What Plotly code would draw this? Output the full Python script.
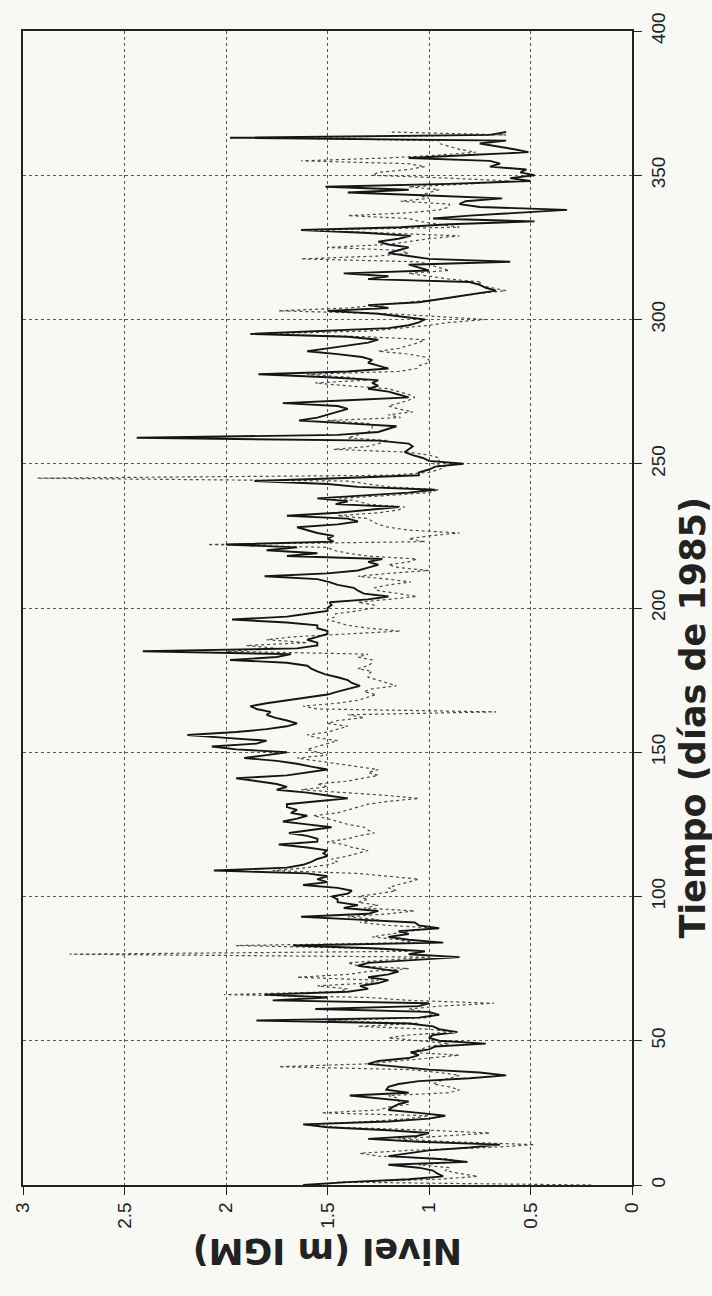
import plotly.graph_objects as go

# Daily water level at two gauges, 1985 (m IGM); index = day of year
dias = list(range(0, 366))

nivel_continuo = [
    1.62, 1.40, 1.10, 0.93, 0.96, 0.98, 1.05, 1.20, 0.81, 0.95,
    1.20, 1.10, 1.00, 0.80, 0.65, 1.05, 1.30, 1.06, 1.00, 1.20,
    1.50, 1.62, 1.20, 1.00, 0.92, 1.05, 1.20, 1.18, 1.15, 1.10,
    1.25, 1.39, 1.10, 1.21, 1.20, 1.15, 1.05, 0.80, 0.62, 0.75,
    1.00, 1.15, 1.30, 1.25, 1.10, 1.05, 1.09, 1.00, 0.97, 0.72,
    0.95, 1.00, 0.98, 0.86, 0.95, 0.98, 1.10, 1.85, 1.05, 0.95,
    1.00, 1.56, 1.05, 1.00, 1.77, 1.50, 1.81, 1.40, 1.30, 1.34,
    1.25, 1.20, 1.30, 1.20, 1.15, 1.25, 1.35, 1.30, 1.05, 0.85,
    1.10, 1.02, 1.25, 1.67, 0.93, 1.10, 1.20, 1.10, 1.15, 0.95,
    1.05, 1.07, 1.35, 1.63, 1.30, 1.25, 1.42, 1.35, 1.45, 1.45,
    1.48, 1.40, 1.38, 1.45, 1.62, 1.50, 1.55, 1.50, 1.60, 2.06,
    1.70, 1.62, 1.58, 1.55, 1.50, 1.52, 1.50, 1.60, 1.74, 1.55,
    1.55, 1.60, 1.69, 1.58, 1.48, 1.60, 1.72, 1.65, 1.60, 1.68,
    1.65, 1.70, 1.70, 1.55, 1.40, 1.50, 1.60, 1.75, 1.70, 1.75,
    1.85, 1.95, 1.70, 1.60, 1.50, 1.58, 1.65, 1.75, 1.91, 1.80,
    1.70, 1.95, 2.07, 1.85, 1.80, 2.00, 2.19, 1.95, 1.80, 1.70,
    1.65, 1.70, 1.76, 1.80, 1.78, 1.85, 1.88, 1.80, 1.70, 1.62,
    1.50, 1.45, 1.40, 1.34, 1.38, 1.40, 1.45, 1.51, 1.55, 1.58,
    1.60, 1.70, 1.98, 1.75, 1.68, 2.41, 1.65, 1.55, 1.55, 1.60,
    1.55, 1.50, 1.50, 1.55, 1.55, 1.70, 1.97, 1.70, 1.60, 1.50,
    1.50, 1.48, 1.49, 1.30, 1.20, 1.32, 1.35, 1.37, 1.45, 1.49,
    1.55, 1.81, 1.50, 1.35, 1.30, 1.25, 1.30, 1.23, 1.70, 1.55,
    1.80, 1.65, 2.00, 1.47, 1.50, 1.47, 1.55, 1.60, 1.65, 1.45,
    1.35, 1.40, 1.70, 1.45, 1.30, 1.15, 1.46, 1.40, 1.55, 1.30,
    1.10, 0.97, 1.35, 1.50, 1.86, 1.45, 1.05, 1.05, 1.00, 0.97,
    0.83, 1.00, 1.03, 1.08, 1.12, 1.10, 1.08, 1.10, 1.25, 2.44,
    1.45, 1.25, 1.20, 1.16, 1.40, 1.64, 1.55, 1.50, 1.45, 1.40,
    1.45, 1.72, 1.40, 1.10, 1.15, 1.20, 1.30, 1.25, 1.28, 1.25,
    1.50, 1.84, 1.40, 1.20, 1.25, 1.30, 1.28, 1.33, 1.45, 1.60,
    1.50, 1.40, 1.30, 1.25, 1.40, 1.88, 1.50, 1.20, 1.10, 1.05,
    1.02, 1.15, 1.25, 1.50, 1.20, 1.30, 1.05, 0.95, 0.85, 0.75,
    0.67, 0.72, 0.75, 0.80, 1.30, 1.20, 1.42, 1.00, 1.05, 1.10,
    0.60, 1.00, 1.10, 1.20, 1.15, 1.10, 1.20, 1.25, 1.15, 1.09,
    1.30, 1.63, 1.14, 0.90, 0.48, 0.98, 0.80, 0.55, 0.32, 0.75,
    0.85, 0.82, 0.64, 1.00, 1.40, 1.10, 1.51, 0.90, 0.50, 0.60,
    0.48, 0.55, 0.52, 0.70, 0.65, 0.70, 1.10, 0.80, 0.51, 0.58,
    0.67, 0.75, 0.62, 1.98, 0.70, 0.62,
]

nivel_punteado = [
    0.20, 1.45, 0.95, 0.76, 0.85, 0.92, 0.90, 1.05, 0.85, 0.90,
    1.25, 1.34, 1.10, 0.70, 0.48, 0.90, 1.15, 0.95, 0.70, 1.00,
    1.45, 1.62, 1.30, 1.10, 1.00, 1.53, 1.25, 1.20, 1.10, 1.15,
    1.15, 1.20, 0.90, 0.85, 0.90, 0.98, 0.95, 0.90, 0.85, 0.95,
    1.10, 1.74, 1.30, 1.15, 1.00, 0.85, 1.09, 1.05, 1.00, 0.90,
    1.05, 1.20, 1.10, 0.88, 1.00, 1.35, 1.05, 1.50, 1.00, 0.98,
    1.02, 1.10, 0.95, 0.68, 1.10, 1.30, 2.01, 1.45, 1.40, 1.55,
    1.30, 1.25, 1.65, 1.40, 1.30, 1.10, 1.35, 1.40, 1.20, 1.00,
    2.77, 1.10, 1.30, 1.95, 1.07, 1.15, 1.28, 1.20, 1.10, 0.96,
    1.20, 1.34, 1.25, 1.40, 1.20, 1.07, 1.32, 1.25, 1.35, 1.30,
    1.35, 1.25, 1.16, 1.20, 1.16, 1.10, 1.05, 1.20, 1.35, 1.77,
    1.60, 1.50, 1.45, 1.48, 1.40, 1.35, 1.30, 1.38, 1.42, 1.50,
    1.40, 1.35, 1.27, 1.30, 1.32, 1.40, 1.45, 1.50, 1.57, 1.45,
    1.40, 1.35, 1.30, 1.20, 1.05, 1.20, 1.40, 1.63, 1.50, 1.55,
    1.40, 1.32, 1.25, 1.30, 1.25, 1.35, 1.45, 1.55, 1.65, 1.50,
    1.55, 1.60, 1.55, 1.50, 1.45, 1.55, 1.60, 1.50, 1.45, 1.40,
    1.50, 1.45, 1.32, 1.40, 0.67, 1.55, 1.62, 1.45, 1.35, 1.30,
    1.26, 1.32, 1.28, 1.16, 1.20, 1.25, 1.30, 1.30, 1.28, 1.35,
    1.30, 1.28, 1.28, 1.35, 1.30, 2.00, 1.75, 1.90, 1.60, 1.80,
    1.67, 1.40, 1.14, 1.30, 1.40, 1.45, 1.50, 1.46, 1.46, 1.35,
    1.27, 1.27, 1.35, 1.20, 1.06, 1.15, 1.25, 1.27, 1.20, 1.09,
    1.20, 1.35, 1.20, 1.00, 1.15, 1.20, 1.10, 1.06, 1.30, 1.40,
    1.47, 1.50, 2.09, 1.02, 1.10, 1.00, 0.85, 1.10, 1.20, 1.25,
    1.28, 1.30, 1.45, 1.25, 1.15, 1.12, 1.30, 1.35, 1.44, 1.20,
    1.00, 0.95, 1.20, 1.30, 1.40, 2.93, 1.20, 1.00, 0.95, 0.92,
    0.98, 0.95, 0.95, 1.00, 1.10, 1.47, 1.30, 1.25, 1.20, 1.40,
    1.35, 1.30, 1.28, 1.28, 1.30, 1.50, 1.14, 1.20, 1.08, 1.15,
    1.20, 1.15, 1.10, 1.07, 1.10, 1.15, 1.20, 1.40, 1.56, 1.30,
    1.40, 1.60, 1.15, 1.06, 1.05, 1.00, 1.00, 1.02, 1.10, 1.25,
    1.15, 1.10, 1.05, 1.02, 1.30, 1.85, 1.30, 1.14, 1.00, 0.90,
    0.72, 0.95, 1.20, 1.74, 1.40, 1.25, 1.10, 0.95, 0.85, 0.76,
    0.62, 0.70, 0.76, 0.74, 0.90, 1.00, 1.10, 0.90, 0.95, 1.00,
    1.05, 1.63, 1.25, 1.10, 1.15, 1.50, 1.20, 1.10, 1.00, 0.85,
    1.20, 1.60, 0.85, 0.95, 1.05, 1.10, 1.40, 1.10, 0.95, 0.90,
    0.90, 1.14, 1.00, 1.05, 1.00, 0.95, 1.10, 0.80, 0.60, 0.90,
    1.28, 1.25, 1.10, 1.02, 1.10, 1.63, 1.20, 0.95, 0.77, 0.85,
    0.90, 0.95, 0.95, 1.78, 0.62, 1.20,
]

ticks_nivel = [0, 0.5, 1, 1.5, 2, 2.5, 3]
etiquetas_nivel = ["0", "0.5", "1", "1.5", "2", "2.5", "3"]
ticks_tiempo = [0, 50, 100, 150, 200, 250, 300, 350, 400]
etiquetas_tiempo = ["0", "50", "100", "150", "200", "250", "300", "350", "400"]

titulo_tiempo = "Tiempo (días de 1985)"
titulo_nivel = "Nivel (m IGM)"

FONT = "Liberation Sans, Arial, sans-serif"
FONT_TITULO = "DejaVu Sans, Liberation Sans, sans-serif"

fig = go.Figure()

# Page is drawn turned on its side: level runs along x (reversed), time runs up y
fig.add_trace(go.Scatter(
    x=nivel_punteado, y=dias, mode="lines",
    line=dict(color="#4a4a4a", width=1.2, dash="dot"),
    showlegend=False, hoverinfo="skip",
))
fig.add_trace(go.Scatter(
    x=nivel_continuo, y=dias, mode="lines",
    line=dict(color="#151515", width=1.9),
    showlegend=False, hoverinfo="skip",
))

fig.update_layout(
    width=712, height=1296,
    margin=dict(l=20, r=80, t=28, b=111),
    paper_bgcolor="#f8f8f5",
    plot_bgcolor="#f8f8f5",
    font=dict(family=FONT, color="#222"),
    xaxis=dict(
        range=[3, 0], autorange=False,
        tickvals=ticks_nivel, ticktext=etiquetas_nivel,
        tickangle=-90, tickfont=dict(size=19, color="#222"),
        ticks="outside", ticklen=8, tickcolor="#222",
        showline=True, linecolor="#222", linewidth=1.5, mirror=True,
        showgrid=True, gridcolor="#555", griddash="dot", gridwidth=1,
        zeroline=False,
    ),
    yaxis=dict(
        range=[0, 400], autorange=False, side="right",
        tickvals=ticks_tiempo, ticktext=etiquetas_tiempo,
        tickangle=-90, tickfont=dict(size=19, color="#222"),
        ticks="outside", ticklen=8, tickcolor="#222",
        showline=True, linecolor="#222", linewidth=1.5, mirror=True,
        showgrid=True, gridcolor="#555", griddash="dot", gridwidth=1,
        zeroline=False,
    ),
)

# Axis titles, rotated with the page
fig.add_annotation(
    text=f"<b>{titulo_tiempo}</b>", xref="paper", yref="paper",
    x=1.10, y=0.405, xanchor="center", yanchor="middle",
    textangle=-90, showarrow=False,
    font=dict(size=35, family=FONT_TITULO, color="#222"),
)
fig.add_annotation(
    text=f"<b>{titulo_nivel}</b>", xref="paper", yref="paper",
    x=0.5, y=-0.057, xanchor="center", yanchor="middle",
    textangle=180, showarrow=False,
    font=dict(size=35, family=FONT_TITULO, color="#222"),
)

fig.write_html("out.html")
